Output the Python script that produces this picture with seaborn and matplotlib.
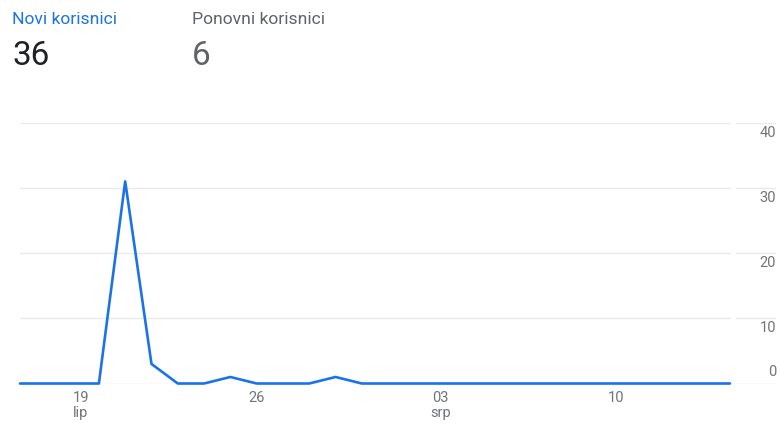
import pandas as pd
import numpy as np
import matplotlib.pyplot as plt
import matplotlib.transforms as mtransforms
import seaborn as sns

# podaci (17. lip - 14. srp)
start_date = '2024-06-17'
novi_korisnici = [0, 0, 0, 0, 31, 3, 0, 0, 1, 0, 0, 0, 1, 0,
                  0, 0, 0, 0, 0, 0, 0, 0, 0, 0, 0, 0, 0, 0]
tick_dates = ['2024-06-19', '2024-06-26', '2024-07-03', '2024-07-10']
tick_labels = ['19\nlip', '26', '03\nsrp', '10']
y_ticks = [0, 10, 20, 30, 40]
headers = ['Novi korisnici', 'Ponovni korisnici']
totals = ['36', '6']

df = pd.DataFrame({
    'datum': pd.date_range(start_date, periods=len(novi_korisnici), freq='D'),
    'korisnici': novi_korisnici,
})

sns.set_style('white')
plt.rcParams['font.family'] = ['Roboto', 'DejaVu Sans']

blue = '#1a73e8'
grid_col = '#e8eaed'
label_col = '#70757a'

W, H = 780, 423
fig = plt.figure(figsize=(W / 100, H / 100), dpi=100)
# osi: od x=20 do x=776, y od 383.5 do 122.7 (pikseli)
ax = fig.add_axes([20 / W, (H - 383.5) / H, 756 / W, (383.5 - 122.7) / H])

sns.lineplot(data=df, x='datum', y='korisnici', ax=ax, color=blue,
             linewidth=1.9, clip_on=False, zorder=3)

x0 = df['datum'].iloc[0]
ax.set_xlim(x0, x0 + pd.Timedelta(days=28.75))
ax.set_ylim(0, 40)

# mreža: glavni dio + kratki komad ispod oznaka
split_a = 710 / 756
split_b = 716 / 756
for v in y_ticks:
    ax.axhline(v, xmin=0, xmax=split_a, color=grid_col, lw=1, zorder=1)
    ax.axhline(v, xmin=split_b, xmax=1, color=grid_col, lw=1, zorder=1)

ax.set_yticks([])
trans = mtransforms.blended_transform_factory(ax.transAxes, ax.transData)
for v in y_ticks:
    off = 1.75 if v == 0 else -1.55
    ax.text(1.0, v + off, str(v), transform=trans, ha='right', va='center',
            fontsize=10.5, color=label_col)

ax.set_xticks(pd.to_datetime(tick_dates))
ax.set_xticklabels(tick_labels, fontsize=10.5, color=label_col, linespacing=1.05)
ax.tick_params(axis='x', length=4, width=1, color='#dadce0', pad=1.5)
labels = ax.get_xticklabels()
labels[0].set_ha('left')
labels[-1].set_ha('right')
ax.set_xlabel('')
ax.set_ylabel('')
sns.despine(ax=ax, left=True, bottom=True, top=True, right=True)

# zaglavlje
fig.text(12 / W, 1 - 24.5 / H, headers[0], color=blue, fontsize=12.6,
         va='baseline', ha='left')
fig.text(192 / W, 1 - 24.5 / H, headers[1], color='#5f6368', fontsize=12.6,
         va='baseline', ha='left')
fig.text(12 / W, 1 - 65 / H, totals[0], color='#202124', fontsize=24,
         va='baseline', ha='left')
fig.text(192 / W, 1 - 65 / H, totals[1], color='#5f6368', fontsize=24,
         va='baseline', ha='left')

fig.savefig('out.png', dpi=100, facecolor='white')
